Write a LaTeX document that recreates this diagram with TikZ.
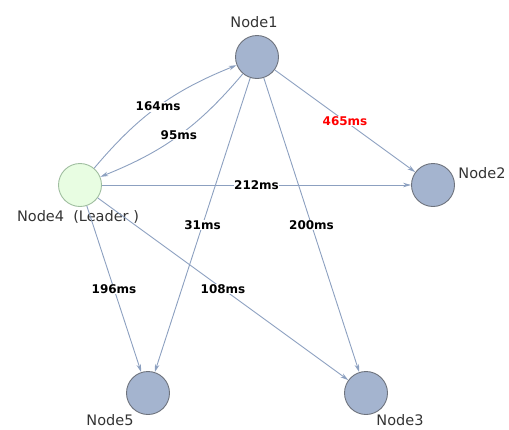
\documentclass[tikz,border=0pt]{standalone}
\usepackage{fontspec}
\setmainfont{DejaVu Sans}
\usetikzlibrary{arrows.meta}
\definecolor{nodefill}{RGB}{164,180,207}
\definecolor{nodeline}{RGB}{110,115,125}
\definecolor{leaderfill}{RGB}{232,253,226}
\definecolor{leaderline}{RGB}{160,190,160}
\definecolor{edgecol}{RGB}{140,160,192}
\begin{document}
\begin{tikzpicture}[x=1pt,y=-1pt,
  peer/.style={circle,draw=nodeline,fill=nodefill,line width=0.9pt,minimum size=43pt,inner sep=0pt},
  leader/.style={circle,draw=leaderline,fill=leaderfill,line width=0.9pt,minimum size=43pt,inner sep=0pt},
  nlabel/.style={font=\fontsize{14.5}{16}\selectfont,text=black!80,inner sep=0pt},
  lat/.style={font=\fontsize{12}{14}\selectfont\bfseries,fill=white,inner sep=0.5pt,text=black},
  link/.style={draw=edgecol,line width=0.9pt,-{Stealth[length=8pt,width=4.5pt]}}]
\useasboundingbox (0,0) rectangle (509,429);
\node[peer] (n1) at (257,57) {};
\node[peer] (n2) at (433,185) {};
\node[leader] (n4) at (80,185) {};
\node[peer] (n5) at (148,393) {};
\node[peer] (n3) at (366,393) {};
\node[nlabel] (t1) at (254,22) {Node1};
\node[nlabel] (t2) at (482,173) {Node2};
\node[nlabel] (t4) at (78,217) {Node4\ \ (Leader )};
\node[nlabel] (t5) at (110,420) {Node5};
\node[nlabel] (t3) at (400,420) {Node3};
\draw[link] (n4) to[bend left=14] node[lat,pos=0.5] {164ms} (n1);
\draw[link] (n1) to[bend left=14] node[lat,pos=0.5] {95ms} (n4);
\draw[link] (n1) -- node[lat] {\textcolor{red}{465ms}} (n2);
\draw[link] (n4) -- node[lat] {212ms} (n2);
\draw[link] (n1) -- node[lat] {31ms} (n5);
\draw[link] (n1) -- node[lat] {200ms} (n3);
\draw[link] (n4) -- node[lat] {196ms} (n5);
\draw[link] (n4) -- node[lat] {108ms} (n3);
\end{tikzpicture}
\end{document}
